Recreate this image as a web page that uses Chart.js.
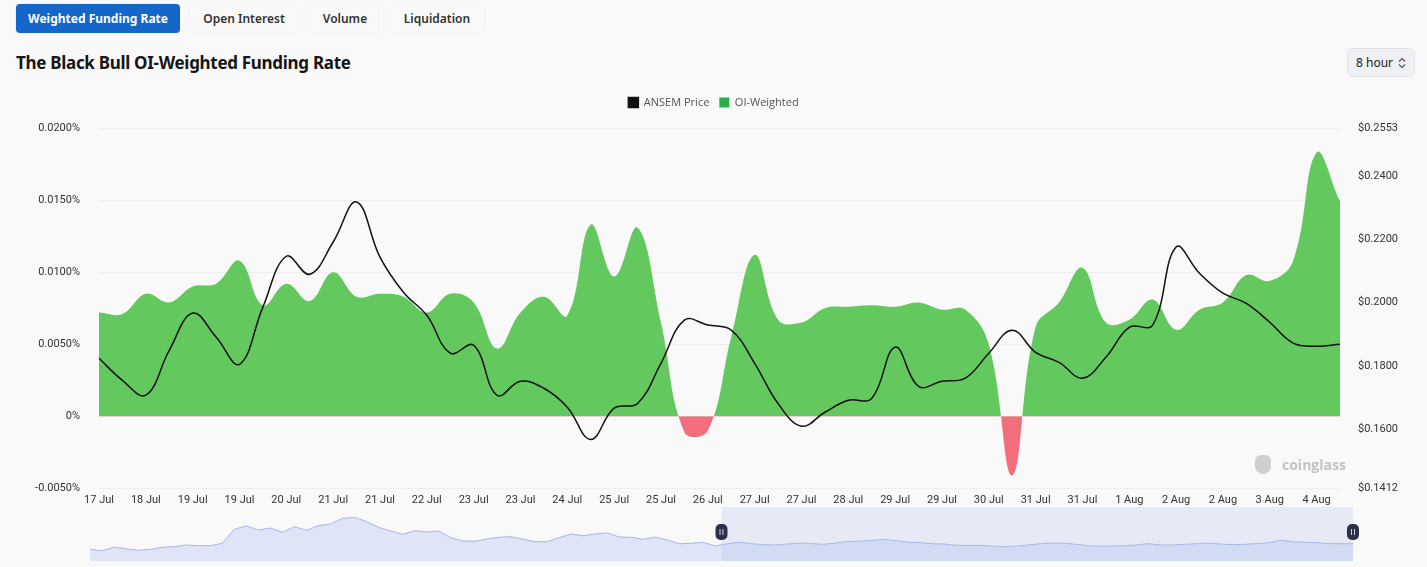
<!DOCTYPE html>
<html>
<head>
<meta charset="utf-8">
<script src="https://cdn.jsdelivr.net/npm/chart.js@4.4.0/dist/chart.umd.min.js"></script>
<style>
  body { margin: 0; width: 1427px; height: 567px; background: #f9f9f9; font-family: "Noto Sans", "Open Sans", sans-serif; overflow: hidden; position: relative; }
  .tab { position: absolute; top: 4px; height: 29px; line-height: 29px; font-size: 12px; font-weight: 600; color: #333; text-align: center; border-radius: 4px; box-shadow: 0 0 0 1px rgba(0,0,0,0.02); }
  .tab.active { background: #1467c8; color: #fff; font-weight: 700; }
  #title { position: absolute; left: 16px; top: 51px; font-size: 17px; font-weight: 700; color: #151515; letter-spacing: -0.3px; }
  #period { position: absolute; left: 1347px; top: 48px; width: 68px; height: 29px; box-sizing: border-box; background: #eef0f3; border: 1px solid #e2e4e8; border-radius: 6px; font-size: 12px; color: #222; line-height: 27px; padding-left: 8px; }
  #period svg { position: absolute; right: 8px; top: 8px; }
  #main { position: absolute; left: 0; top: 87px; width: 1427px; height: 427px; }
  #overview { position: absolute; left: 80px; top: 504px; width: 1290px; height: 60px; }
  #mark { position: absolute; left: 1255px; top: 455px; color: #c3c3c3; font-size: 14px; font-weight: 700; font-family: "Open Sans", sans-serif; }
  #mark span { display: inline-block; width: 16px; height: 19px; background: #cfcfcf; border-radius: 6px 6px 8px 8px; vertical-align: -4px; margin-right: 11px; }
</style>
</head>
<body>
<div class="tab active" style="left:16px;width:164px;">Weighted Funding Rate</div>
<div class="tab" style="left:190px;width:108px;">Open Interest</div>
<div class="tab" style="left:307px;width:76px;">Volume</div>
<div class="tab" style="left:390px;width:94px;">Liquidation</div>
<div id="title">The Black Bull OI-Weighted Funding Rate</div>
<div id="period">8 hour<svg width="8" height="12" viewBox="0 0 8 12"><path d="M1 4.5 L4 1.5 L7 4.5 M1 7.5 L4 10.5 L7 7.5" fill="none" stroke="#555" stroke-width="1.2"/></svg></div>
<div id="main"><canvas id="mainChart"></canvas></div>
<div id="overview"><canvas id="overviewChart"></canvas></div>
<div id="mark"><span></span>coinglass</div>
<script>
// 8h periods shown in the main chart
const periods = [
  "17 Jul 16:00", "18 Jul 00:00", "18 Jul 08:00", "18 Jul 16:00", "19 Jul 00:00", "19 Jul 08:00",
  "19 Jul 16:00", "20 Jul 00:00", "20 Jul 08:00", "20 Jul 16:00", "21 Jul 00:00", "21 Jul 08:00",
  "21 Jul 16:00", "22 Jul 00:00", "22 Jul 08:00", "22 Jul 16:00", "23 Jul 00:00", "23 Jul 08:00",
  "23 Jul 16:00", "24 Jul 00:00", "24 Jul 08:00", "24 Jul 16:00", "25 Jul 00:00", "25 Jul 08:00",
  "25 Jul 16:00", "26 Jul 00:00", "26 Jul 08:00", "26 Jul 16:00", "27 Jul 00:00", "27 Jul 08:00",
  "27 Jul 16:00", "28 Jul 00:00", "28 Jul 08:00", "28 Jul 16:00", "29 Jul 00:00", "29 Jul 08:00",
  "29 Jul 16:00", "30 Jul 00:00", "30 Jul 08:00", "30 Jul 16:00", "31 Jul 00:00", "31 Jul 08:00",
  "31 Jul 16:00", "1 Aug 00:00", "1 Aug 08:00", "1 Aug 16:00", "2 Aug 00:00", "2 Aug 08:00",
  "2 Aug 16:00", "3 Aug 00:00", "3 Aug 08:00", "3 Aug 16:00", "4 Aug 00:00", "4 Aug 08:00"
];

// OI-weighted funding rate, in %
const oiWeighted = [
  0.0072, 0.0071, 0.0085, 0.0079, 0.0090, 0.0092, 0.0108, 0.0077, 0.0092, 0.0080,
  0.0100, 0.0083, 0.0085, 0.0083, 0.0072, 0.0085, 0.0079, 0.0047, 0.0072, 0.0083,
  0.0070, 0.0133, 0.0097, 0.0131, 0.0065, -0.0011, -0.0010, 0.0055, 0.0112, 0.0067,
  0.0065, 0.0075, 0.0076, 0.0077, 0.0076, 0.0079, 0.0074, 0.0074, 0.0050, -0.0041,
  0.0062, 0.0079, 0.0103, 0.0065, 0.0067, 0.0081, 0.0060, 0.0074, 0.0079, 0.0098,
  0.0094, 0.0108, 0.0183, 0.0149
];

// ANSEM price, USD
const ansemPrice = [
  0.1824, 0.1754, 0.1707, 0.1849, 0.1967, 0.1891, 0.1805, 0.1986, 0.2147, 0.2090,
  0.2192, 0.2319, 0.2144, 0.2033, 0.1960, 0.1840, 0.1865, 0.1707, 0.1751, 0.1729,
  0.1669, 0.1567, 0.1666, 0.1681, 0.1808, 0.1945, 0.1929, 0.1913, 0.1808, 0.1681,
  0.1609, 0.1653, 0.1691, 0.1697, 0.1859, 0.1735, 0.1751, 0.1761, 0.1840, 0.1913,
  0.1843, 0.1811, 0.1761, 0.1827, 0.1922, 0.1929, 0.2176, 0.2093, 0.2030, 0.1998,
  0.1938, 0.1872, 0.1862, 0.1868
];

const rateTicks = [-0.005, 0, 0.005, 0.01, 0.015, 0.02];
const priceTicks = [0.1412, 0.16, 0.18, 0.20, 0.22, 0.24, 0.2553];

// navigator thumbnail series (arbitrary units)
const overviewValues = [
  11.7, 10.3, 13.7, 12.3, 10.7, 11.7, 13.7, 14.3, 16.0, 15.3, 15.3, 17.7, 31.7, 35.0, 31.0,
  33.0, 28.7, 34.3, 30.7, 35.3, 37.0, 42.7, 43.7, 39.3, 33.7, 30.0, 26.7, 30.3, 29.0, 30.0,
  23.3, 20.0, 19.7, 22.0, 23.7, 24.3, 21.7,
  19.3, 19.3, 23.3, 27.0, 25.3, 27.0, 28.0, 24.0, 23.7, 21.7, 24.0, 21.0, 17.3, 17.7, 18.7,
  15.0, 17.3, 18.7, 17.3, 16.3, 16.0, 17.0, 18.0, 17.3, 16.7, 18.0, 19.7, 19.7, 20.7, 21.7,
  20.3, 19.0, 18.3, 17.3, 17.0, 15.7,
  15.7, 15.7, 15.0, 14.3, 15.0, 16.0, 17.3, 18.0, 17.7, 16.7, 15.3, 14.7, 15.0, 15.3, 16.0,
  17.3, 16.0, 16.0, 16.7, 17.3, 18.0, 17.0, 16.3, 16.7, 17.3, 18.3, 20.7, 19.3, 18.7, 18.3,
  17.3, 17.3, 17.3
];
const windowFrom = 52.5; // start of the selected range in the navigator

const tickFont = { family: "Roboto, 'DejaVu Sans'", size: 11 };

// a bit of room between legend and plot
const legendGap = {
  id: "legendGap",
  beforeInit(chart) {
    const fit = chart.legend.fit;
    chart.legend.fit = function () {
      fit.bind(chart.legend)();
      this.height += 10;
    };
  },
};

new Chart(document.getElementById("mainChart"), {
  type: "line",
  data: {
    labels: periods,
    datasets: [
      {
        label: "ANSEM Price",
        data: ansemPrice,
        yAxisID: "yPrice",
        borderColor: "#111111",
        backgroundColor: "#111111",
        borderWidth: 1.5,
        pointRadius: 0,
        tension: 0.4,
        fill: false,
      },
      {
        label: "OI-Weighted",
        data: oiWeighted,
        yAxisID: "yRate",
        borderColor: "rgba(0,0,0,0)",
        backgroundColor: "#2aae4c",
        borderWidth: 0,
        pointRadius: 0,
        tension: 0.4,
        fill: { target: "origin", above: "#63c95e", below: "#f36e7c" },
      },
    ],
  },
  options: {
    responsive: true,
    maintainAspectRatio: false,
    animation: false,
    events: [],
    layout: { padding: { top: 0, right: 0, bottom: 0, left: 0 } },
    plugins: {
      tooltip: { enabled: false },
      legend: {
        position: "top",
        labels: {
          boxWidth: 10,
          boxHeight: 10,
          padding: 10,
          color: "#555",
          font: { family: "'Open Sans', sans-serif", size: 11 },
        },
      },
    },
    scales: {
      x: {
        grid: { display: false, drawTicks: false },
        border: { display: false },
        ticks: {
          autoSkip: false,
          maxRotation: 0,
          padding: 5,
          color: "#333",
          font: tickFont,
          callback: (v, i) => (i % 2 === 0 ? periods[i].split(" ").slice(0, 2).join(" ") : null),
        },
      },
      yRate: {
        position: "left",
        min: -0.005,
        max: 0.02,
        afterBuildTicks: (s) => { s.ticks = rateTicks.map((v) => ({ value: v })); },
        afterFit: (s) => { s.width = 99; },
        grid: { color: "rgba(0,0,0,0.045)", drawTicks: false },
        border: { display: false },
        ticks: {
          padding: 19,
          color: "#333",
          font: tickFont,
          callback: (v) => (Math.abs(v) < 1e-9 ? "0%" : v.toFixed(4) + "%"),
        },
      },
      yPrice: {
        position: "right",
        min: 0.1412,
        max: 0.2553,
        afterBuildTicks: (s) => { s.ticks = priceTicks.map((v) => ({ value: v })); },
        afterFit: (s) => { s.width = 87; },
        grid: { display: false, drawTicks: false },
        border: { display: false },
        ticks: {
          padding: 18,
          color: "#333",
          font: tickFont,
          callback: (v) => "$" + v.toFixed(4),
        },
      },
    },
  },
  plugins: [legendGap],
});

// selected range + handles on the navigator
const windowPlugin = {
  id: "windowPlugin",
  afterDatasetsDraw(chart) {
    const { ctx, chartArea, scales } = chart;
    const x0 = scales.x.getPixelForValue(windowFrom);
    const x1 = chartArea.right;
    ctx.save();
    ctx.fillStyle = "rgba(170,190,240,0.25)";
    ctx.fillRect(x0, chartArea.top, x1 - x0, chartArea.bottom - chartArea.top);
    const mid = (chartArea.top + chartArea.bottom) / 2 - 2;
    [x0, x1].forEach((x) => {
      ctx.fillStyle = "#2b3046";
      ctx.beginPath();
      ctx.roundRect(x - 6, mid - 8, 12, 16, 5);
      ctx.fill();
      ctx.strokeStyle = "#c9cde0";
      ctx.lineWidth = 1;
      ctx.beginPath();
      ctx.moveTo(x - 1.5, mid - 3); ctx.lineTo(x - 1.5, mid + 3);
      ctx.moveTo(x + 1.5, mid - 3); ctx.lineTo(x + 1.5, mid + 3);
      ctx.stroke();
    });
    ctx.restore();
  },
};

new Chart(document.getElementById("overviewChart"), {
  type: "line",
  data: {
    labels: overviewValues.map((v, i) => i),
    datasets: [
      {
        data: overviewValues.map((v, i) => ({ x: i, y: v })),
        borderColor: "#a7b6e4",
        backgroundColor: "rgba(214,222,244,0.75)",
        borderWidth: 1,
        pointRadius: 0,
        tension: 0,
        fill: "origin",
      },
    ],
  },
  options: {
    responsive: true,
    maintainAspectRatio: false,
    animation: false,
    events: [],
    layout: { padding: { top: 3, right: 17, bottom: 3, left: 10 } },
    plugins: { legend: { display: false }, tooltip: { enabled: false } },
    scales: {
      x: { type: "linear", min: 0, max: overviewValues.length - 1, display: false },
      y: { min: 0, max: 54, display: false },
    },
  },
  plugins: [windowPlugin],
});
</script>
</body>
</html>
